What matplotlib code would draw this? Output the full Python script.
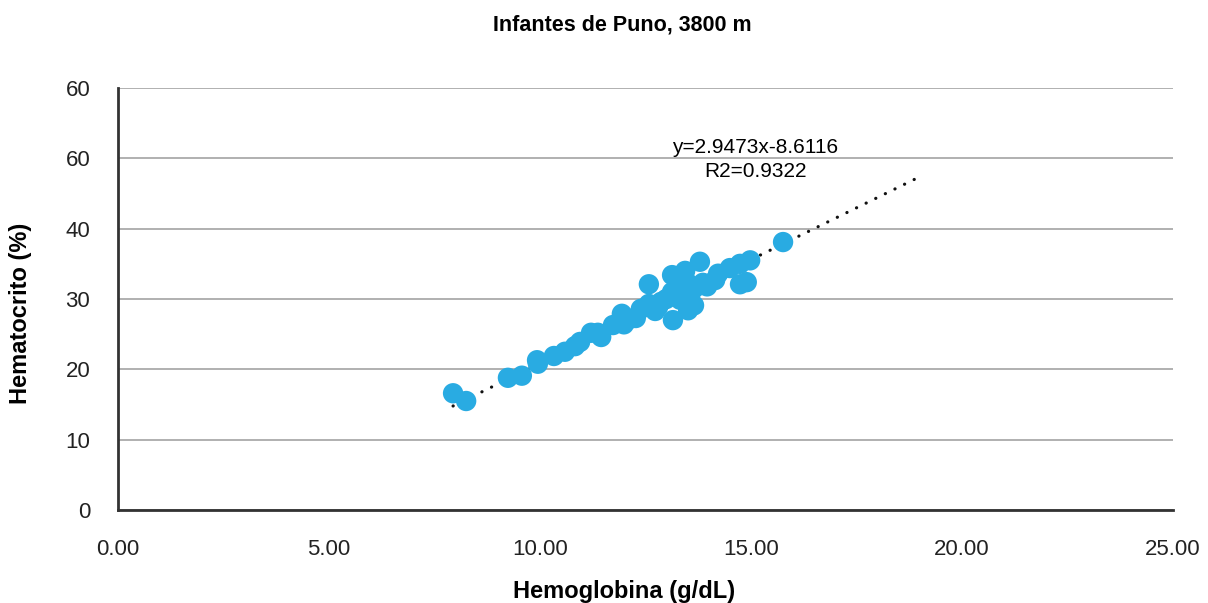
import matplotlib.pyplot as plt

# hemoglobin (g/dL) and hematocrit (%) of infants, Puno 3800 m
hemoglobina = [7.94, 8.25, 9.24, 9.57, 9.93, 9.95, 10.33, 10.59, 10.83, 10.95,
               11.21, 11.45, 11.37, 11.73, 11.94, 11.99, 12.27, 12.39, 12.58, 12.58,
               12.73, 12.87, 12.99, 13.13, 13.15, 13.13, 13.27, 13.44, 13.48, 13.51,
               13.65, 13.67, 13.79, 13.86, 13.96, 14.15, 14.22, 14.50, 14.74, 14.74,
               14.90, 14.98, 15.76, 13.56, 13.32, 12.80, 12.14]
hematocrito = [16.6, 15.5, 18.8, 19.1, 21.3, 20.8, 21.9, 22.5, 23.3, 23.9,
               25.2, 24.6, 25.2, 26.3, 27.9, 26.4, 27.3, 28.6, 29.3, 32.1,
               28.3, 29.6, 30.0, 31.0, 27.0, 33.4, 31.3, 34.0, 32.4, 28.4,
               29.1, 31.6, 35.3, 32.3, 31.8, 32.7, 33.6, 34.4, 35.0, 32.1,
               32.4, 35.5, 38.1, 30.6, 29.9, 28.9, 27.2]

# linear trend as reported
pendiente = 2.9473
intercepto = -8.6116
r2 = 0.9322
trend_end = 18.9

y_ticks = [0, 10, 20, 30, 40, 50, 60]
y_tick_labels = ["0", "10", "20", "30", "40", "60", "60"]
x_ticks = [0, 5, 10, 15, 20, 25]

plt.rcParams['font.family'] = ['Liberation Sans', 'DejaVu Sans']

fig = plt.figure(figsize=(12.08, 6.03), dpi=100)
ax = fig.add_axes([0.0977, 0.1542, 0.8733, 0.6998])

ax.scatter(hemoglobina, hematocrito, s=215, color='#29ABE2', edgecolors='none', zorder=3)

# dotted trendline sits under the points
x0 = min(hemoglobina)
ax.plot([x0, trend_end], [pendiente * x0 + intercepto, pendiente * trend_end + intercepto],
        color='#111111', linewidth=2.3, linestyle=(0, (0.05, 3.3)),
        dash_capstyle='round', zorder=2)

ax.text(15.1, 51.6, f"y={pendiente}x{intercepto}", ha='center', va='center', fontsize=15)
ax.text(15.1, 48.1, f"R2={r2}", ha='center', va='center', fontsize=15)

ax.set_xlim(0, 25)
ax.set_ylim(0, 60)
ax.set_yticks(y_ticks)
ax.set_yticklabels(y_tick_labels)
ax.set_xticks(x_ticks)
ax.set_xticklabels([f"{v:.2f}" for v in x_ticks])
ax.tick_params(axis='both', length=0, labelsize=16, colors='#222222')
ax.tick_params(axis='y', pad=20)
ax.tick_params(axis='x', pad=21)

ax.grid(axis='y', color='#aaaaaa', linewidth=1.3)
ax.set_axisbelow(True)
for side in ['top', 'right']:
    ax.spines[side].set_visible(False)
for side in ['left', 'bottom']:
    ax.spines[side].set_color('#333333')
    ax.spines[side].set_linewidth(2)

fig.text(0.5155, 1 - 25 / 603, "Infantes de Puno, 3800 m", ha='center', va='center',
         fontsize=15.5, fontweight='bold')
ax.set_xlabel("Hemoglobina (g/dL)", fontsize=17, fontweight='bold')
ax.set_ylabel("Hematocrito (%)", fontsize=17, fontweight='bold')
ax.xaxis.set_label_coords(0.4798, -0.166)
ax.yaxis.set_label_coords(-0.0815, 0.467)

fig.savefig("out.png", dpi=100)
